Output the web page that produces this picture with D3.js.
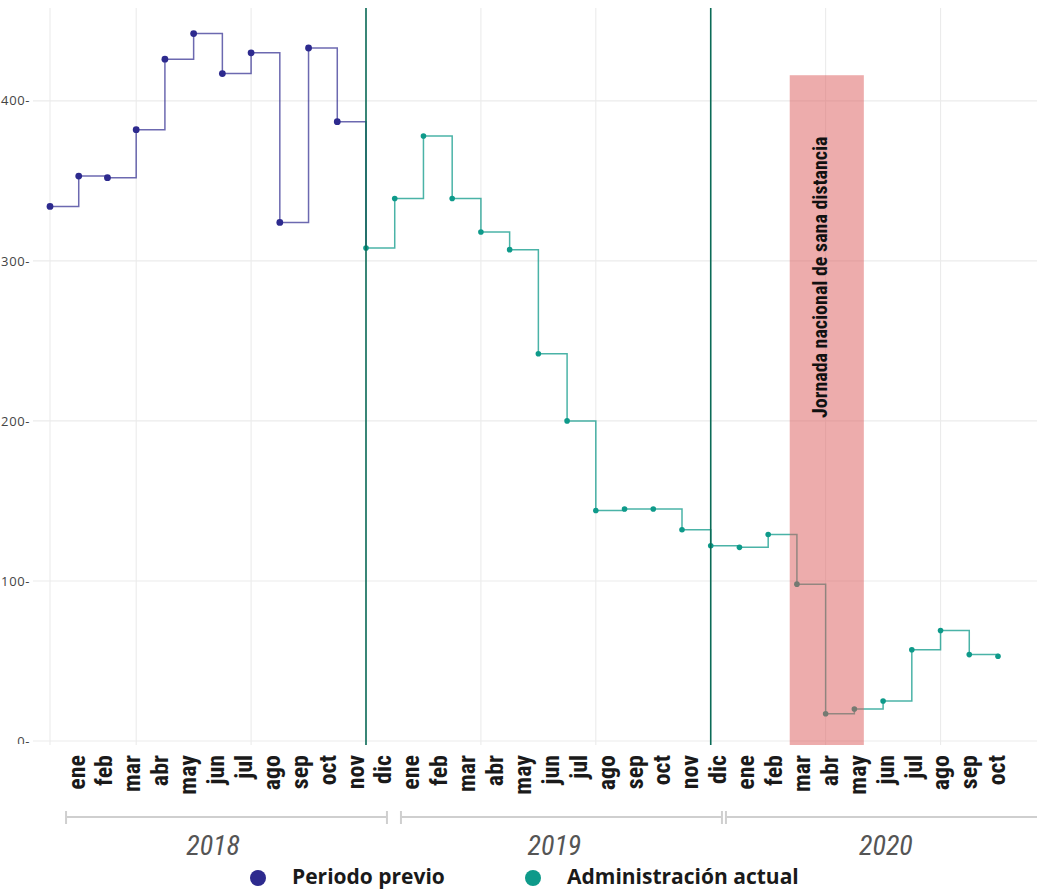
<!DOCTYPE html>
<html><head><meta charset="utf-8">
<script src="https://cdn.jsdelivr.net/npm/d3@7/dist/d3.min.js"></script>
<style>
html,body{margin:0;padding:0;background:#fff;}
svg{display:block;}
</style>
</head><body>
<svg id="chart" width="1037" height="891"></svg>
<script>
// ---- data ----
const monthLabels = ["ene","feb","mar","abr","may","jun","jul","ago","sep","oct","nov","dic",
  "ene","feb","mar","abr","may","jun","jul","ago","sep","oct","nov","dic",
  "ene","feb","mar","abr","may","jun","jul","ago","sep","oct"];
const years = ["2018","2019","2020"];
// Periodo previo: ene 2018 - nov 2018 (index 0..10)
const previoValues = [334,353,352,382,426,442,417,430,324,433,387];
// Administración actual: dic 2018 - oct 2020 (index 11..33)
const actualValues = [308,339,378,339,318,307,242,200,144,145,145,132,122,
  121,129,98,17,20,25,57,69,54,53];
const actualStart = 11;
const yTicks = [0,100,200,300,400];
const gridMonths = [0,3,7,11,15,19,23,27,31];
const periodBreaks = [11,23];
const jornada = [25.75, 28.33];
const jornadaTop = 416;
const jornadaLabel = "Jornada nacional de sana distancia";
const seriesNames = ["Periodo previo","Administración actual"];

// ---- styles ----
const purple = "#2d2a8e", teal = "#0e9a8a";
const narrow = "'Liberation Sans Narrow','Arial Narrow','Roboto Condensed',Lato,sans-serif";

const svg = d3.select("#chart");
const x = d3.scaleLinear().domain([0,33]).range([50,998]);
const y = d3.scaleLinear().domain([0,458]).range([741,8]);
const plotTop = 8, plotBottom = 745;

// grid
svg.append("g").selectAll("line.h").data(yTicks).join("line")
  .attr("x1",33).attr("x2",1037).attr("y1",d=>y(d)).attr("y2",d=>y(d))
  .attr("stroke","#ebebeb").attr("stroke-width",1.1);
svg.append("g").selectAll("line.v").data(gridMonths).join("line")
  .attr("x1",d=>x(d)).attr("x2",d=>x(d)).attr("y1",plotTop).attr("y2",plotBottom)
  .attr("stroke","#ebebeb").attr("stroke-width",1.1);

// y axis
svg.append("clipPath").attr("id","yclip").append("rect")
  .attr("x",-40).attr("y",0).attr("width",60).attr("height",744);
const yAxis = svg.append("g").attr("transform","translate(33,0)").attr("clip-path","url(#yclip)")
  .call(d3.axisLeft(y).tickValues(yTicks).tickSize(0).tickPadding(3).tickFormat(d=>d+"-"));
yAxis.select(".domain").remove();
yAxis.selectAll("text").attr("font-family","'Open Sans',sans-serif").attr("font-size",13)
  .attr("fill","#444").attr("letter-spacing","0.6px");

// lines
const line = d3.line().x(d=>x(d.i)).y(d=>y(d.v)).curve(d3.curveStepAfter);
const previoPts = previoValues.map((v,i)=>({i, v}));
const actualPts = actualValues.map((v,k)=>({i:k+actualStart, v}));
svg.append("path").datum(previoPts.concat([{i:actualStart, v:actualValues[0]}]))
  .attr("d",line).attr("fill","none").attr("stroke",purple).attr("stroke-opacity",0.7).attr("stroke-width",1.5);
svg.append("path").datum(actualPts)
  .attr("d",line).attr("fill","none").attr("stroke",teal).attr("stroke-opacity",0.75).attr("stroke-width",1.5);
svg.append("g").selectAll("circle").data(previoPts).join("circle")
  .attr("cx",d=>x(d.i)).attr("cy",d=>y(d.v)).attr("r",3.4).attr("fill",purple);
svg.append("g").selectAll("circle").data(actualPts).join("circle")
  .attr("cx",d=>x(d.i)).attr("cy",d=>y(d.v)).attr("r",2.8).attr("fill",teal);

// period break lines
svg.append("g").selectAll("line").data(periodBreaks).join("line")
  .attr("x1",d=>x(d)).attr("x2",d=>x(d)).attr("y1",plotTop).attr("y2",plotBottom)
  .attr("stroke","#0b6b57").attr("stroke-width",1.6);

// jornada rect
svg.append("rect").attr("x",x(jornada[0])).attr("width",x(jornada[1])-x(jornada[0]))
  .attr("y",y(jornadaTop)).attr("height",plotBottom-y(jornadaTop))
  .attr("fill","#db5a5a").attr("fill-opacity",0.5);
svg.append("text").attr("transform",`translate(${(x(jornada[0])+x(jornada[1]))/2},418) rotate(-90)`)
  .attr("text-anchor","start").attr("font-family",narrow).attr("font-weight","bold").attr("font-size",20)
  .attr("fill","#111").text(jornadaLabel);

// x axis (month labels)
const xl = d3.scaleLinear().domain([0,33]).range([84,1004.7]);
const xAxis = svg.append("g").attr("transform","translate(0,755)")
  .call(d3.axisBottom(xl).tickValues(d3.range(monthLabels.length)).tickSize(0).tickFormat(i=>monthLabels[i]));
xAxis.select(".domain").remove();
xAxis.selectAll("text").attr("y",0).attr("x",0).attr("dy",0)
  .attr("transform","rotate(-90)").attr("text-anchor","end")
  .attr("font-family",narrow).attr("font-weight","bold").attr("font-size",24).attr("fill","#1a1a1a");

// year brackets
const c = i => xl(i) - 6.5;
const bStart = [c(-0.5)+2.5, c(11.5)+2.6];
const bEnd = [c(11.5)-11.4, c(23.5)-11.2];
bStart.push(bEnd[1]+4); bEnd.push(1045);
const by = 817;
const yg = svg.append("g");
years.forEach((yr,k)=>{
  yg.append("line").attr("x1",bStart[k]).attr("x2",bEnd[k]).attr("y1",by).attr("y2",by)
    .attr("stroke","#cfcfcf").attr("stroke-width",2);
  [bStart[k], bEnd[k]].forEach(px=>{
    yg.append("line").attr("x1",px).attr("x2",px).attr("y1",by-6).attr("y2",by+7)
      .attr("stroke","#cfcfcf").attr("stroke-width",2);
  });
  yg.append("text").attr("x",bStart[k]+147+6.5*k).attr("y",855)
    .attr("text-anchor","middle").attr("font-family",narrow).attr("font-style","italic")
    .attr("font-size",28).attr("fill","#555").text(yr);
});

// legend
const lg = svg.append("g");
const legX = [258, 533];
[purple, teal].forEach((col,k)=>{
  lg.append("circle").attr("cx",legX[k]).attr("cy",878).attr("r",8).attr("fill",col);
  lg.append("text").attr("x",legX[k]+34).attr("y",884).attr("font-family","'Open Sans',sans-serif")
    .attr("font-weight","bold").attr("font-size",21).attr("fill","#1a1a1a").text(seriesNames[k]);
});
</script>
</body></html>
